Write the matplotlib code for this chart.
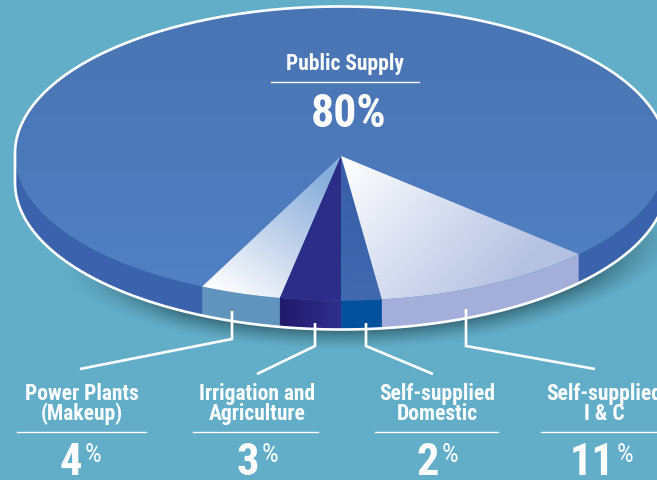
#!/usr/bin/env python3
"""Water use pie, drawn as a tilted disc in pixel coordinates."""
import numpy as np
import matplotlib
matplotlib.use("Agg")
import matplotlib.pyplot as plt
from matplotlib import font_manager as fm
from matplotlib.colors import LinearSegmentedColormap, to_rgb
from matplotlib.patches import Polygon

# data
categories = ["Self-supplied\nI & C", "Self-supplied\nDomestic",
              "Irrigation and\nAgriculture", "Power Plants\n(Makeup)"]
shares = [11, 2, 3, 4]
main_label = "Public Supply"
main_share = 80

BG = "#62aec9"
CX, CY, A, B = 341, 154.5, 326, 147
DEPTH = 29
APEX = (341, 157)

# condensed face when there is one, otherwise plain Liberation at a smaller size
names = {f.name for f in fm.fontManager.ttflist}
FONT, SCALE = "Liberation Sans", 0.89
for cand in ["Roboto Condensed", "Archivo Narrow", "Liberation Sans Narrow", "PT Sans Narrow"]:
    if cand in names:
        FONT, SCALE = cand, 1.0
        break

W, H = 657, 481
fig = plt.figure(figsize=(W / 100, H / 100), dpi=100, facecolor=BG)
ax = fig.add_axes([0, 0, 1, 1])
ax.set_xlim(0, W)
ax.set_ylim(H, 0)
ax.axis("off")
xx, yy = np.meshgrid(np.arange(W) + 0.5, np.arange(H) + 0.5)


def rim(a0, a1, dy=0.0, n=80):
    # angles in degrees measured from the front of the disc, positive to the right
    t = np.radians(np.linspace(a0, a1, n))
    return np.column_stack([CX + A * np.sin(t), CY + B * np.cos(t) + dy])


def grad_fill(poly, p0, p1, colors, z):
    # linear gradient from p0 to p1, clipped by a polygon
    d = np.array(p1, float) - np.array(p0, float)
    v = ((xx - p0[0]) * d[0] + (yy - p0[1]) * d[1]) / (d @ d)
    cmap = LinearSegmentedColormap.from_list("g", colors)
    im = ax.imshow(np.clip(v, 0, 1), cmap=cmap, vmin=0, vmax=1, extent=(0, W, H, 0),
                   zorder=z, aspect="auto", interpolation="bilinear")
    pp = Polygon(poly, closed=True, transform=ax.transData, fc="none", ec="none")
    ax.add_patch(pp)
    im.set_clip_path(pp)


# shadow under the disc
d = np.hypot((xx - CX) / A, (yy - CY - DEPTH - 1) / B)
al = np.clip(1 - (d - 1) / 0.14, 0, 1) ** 1.5 * 0.72
al *= np.clip((yy - 215) / 70, 0, 1) * np.clip((xx - 60) / 120, 0, 1)
rgba = np.zeros((H, W, 4))
rgba[..., :3] = to_rgb("#2a5560")
rgba[..., 3] = al
ax.imshow(rgba, extent=(0, W, H, 0), zorder=1, aspect="auto")

# wedge boundaries from the shares, the front of the disc lies between 2% and 3%
deg = 3.6
right = np.cumsum([0, shares[1], shares[0]]) * deg      # 0, domestic, I&C
left = -np.cumsum([0, shares[2], shares[3]]) * deg      # 0, irrigation, power

# body of the disc
body = np.vstack([rim(-90, 90, DEPTH, 300), rim(90, -90, 0, 300)])
ax.add_patch(Polygon(body, fc="#3a62ad", ec="none", zorder=2))

# main top face
top = rim(0, 360, 0, 500)
grad_fill(top, (341, 8), (341, 300), ["#4a75b4", "#4c79ba", "#5181c6"], 3)

# side segments
sides = [
    (left[2], left[1], "#6094bc"),
    (left[1], left[0], None),
    (right[0], right[1], "#03509c"),
    (right[1], right[2], "#a3aeda"),
]
for a0, a1, col in sides:
    poly = np.vstack([rim(a0, a1), rim(a1, a0, DEPTH)])
    if col is None:
        grad_fill(poly, (281, 320), (342, 320), ["#221a6c", "#2f2f8c"], 4)
    else:
        ax.add_patch(Polygon(poly, fc=col, ec="none", zorder=4))

# top wedges
w_power = np.vstack([[APEX], rim(left[2], left[1])])
w_irr = np.vstack([[APEX], rim(left[1], left[0])])
w_dom = np.vstack([[APEX], rim(right[0], right[1])])
w_ic = np.vstack([[APEX], rim(right[1], right[2])])
grad_fill(w_power, (235, 305), (325, 175), ["#ffffff", "#c3d3eb", "#86aedb"], 5)
ax.add_patch(Polygon(w_irr, fc="#2c2d88", ec="none", zorder=5))
grad_fill(w_dom, (341, 157), (362, 300), ["#375ea6", "#4069b0"], 5)
grad_fill(w_ic, (345, 160), (500, 300), ["#ffffff", "#d8dff0", "#b4c1e1"], 5)

# white outline
outline = np.vstack([rim(-90, -270, 0, 300), rim(90, -90, DEPTH, 300)])
ax.fill(*outline.T, fc="none", ec="white", lw=1.9, zorder=6, joinstyle="round")

# leaders
leaders = [
    ([595, 466, 466], [370, 347, 310]),
    ([433, 366, 366], [375, 347, 324]),
    ([257, 315, 315], [375, 347, 324]),
    ([80, 232, 232], [370, 340, 312]),
]
for lx, ly in leaders:
    ax.plot(lx, ly, color="white", lw=1.9, zorder=7, solid_joinstyle="miter", solid_capstyle="butt")

# bottom labels
lab_x = [604, 437, 257, 82]
rules = [(541, 657), (375, 498), (193, 318), (17, 146)]
pct_x = [592, 428, 248, 71]
txt = dict(color="white", family=FONT, fontweight="bold", zorder=8)
for name, val, x, (r0, r1), px in zip(categories, shares, lab_x, rules, pct_x):
    ax.text(x, 404, name, ha="center", va="center", fontsize=15.5 * SCALE, linespacing=0.9, **txt)
    ax.plot([r0, r1], [433, 433], color="white", lw=1.0, zorder=8)
    t = ax.text(px, 475, str(val), ha="center", va="baseline", fontsize=32 * SCALE, **txt)
    ext = t.get_window_extent(fig.canvas.get_renderer())
    ax.text(ext.x1 + 2, 462, "%", ha="left", va="baseline", color="white", family=FONT,
            fontsize=19 * SCALE, zorder=8)

# main label
ax.text(345, 64, main_label, ha="center", va="center", fontsize=15.5 * SCALE, **txt)
ax.plot([271, 419], [83, 83], color="white", lw=1.0, zorder=8)
ax.text(349, 127, f"{main_share}%", ha="center", va="baseline", fontsize=33 * SCALE, **txt)

ax.set_xlim(0, W)
ax.set_ylim(H, 0)
fig.savefig("out.png", dpi=100, facecolor=BG)
